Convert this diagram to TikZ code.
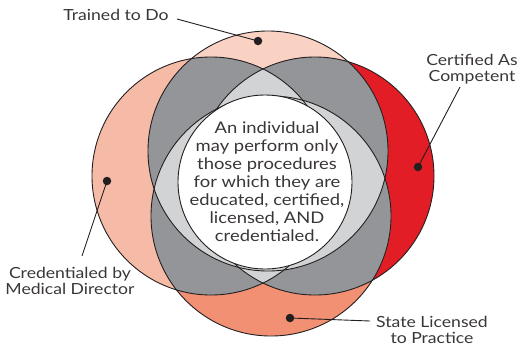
\documentclass[tikz,border=0pt]{standalone}
\usepackage{fontspec}
\setmainfont{Lato}[FakeStretch=1.15]
\definecolor{cTop}{HTML}{FAD2C4}
\definecolor{cLeft}{HTML}{F5BBA6}
\definecolor{cRight}{HTML}{E31D25}
\definecolor{cBot}{HTML}{F19072}
\definecolor{cTwo}{HTML}{939598}
\definecolor{cThree}{HTML}{D1D3D4}
\definecolor{ink}{HTML}{231F20}
\definecolor{txt}{HTML}{3A3637}
\tikzset{
  outline/.style={draw=ink, line width=0.9pt},
  dotnode/.style={circle, fill=ink, inner sep=0pt, minimum size=8.5pt},
  leader/.style={draw=ink, line width=0.9pt},
  lbl/.style={align=center, text=txt, font=\fontsize{15.3}{15.5}\selectfont, inner sep=0pt},
}
\begin{document}
\begin{tikzpicture}[x=1pt,y=-1pt]
\useasboundingbox (0,0) rectangle (519,346);
\def\CT{(268,151) circle[radius=120pt]}
\def\CB{(271,216) circle[radius=120pt]}
\def\CL{(211,176) circle[radius=119pt]}
\def\CR{(315,176) circle[radius=119pt]}
% single circles
\fill[cTop] \CT;
\fill[cLeft] \CL;
\fill[cRight] \CR;
\fill[cBot] \CB;
% pairwise overlaps
\begin{scope}\clip \CT; \fill[cTwo] \CL; \fill[cTwo] \CR; \fill[cTwo] \CB; \end{scope}
\begin{scope}\clip \CL; \fill[cTwo] \CR; \fill[cTwo] \CB; \end{scope}
\begin{scope}\clip \CR; \fill[cTwo] \CB; \end{scope}
% triple overlaps
\begin{scope}\clip \CT; \clip \CL; \fill[cThree] \CR; \fill[cThree] \CB; \end{scope}
\begin{scope}\clip \CT; \clip \CR; \fill[cThree] \CB; \end{scope}
\begin{scope}\clip \CL; \clip \CR; \fill[cThree] \CB; \end{scope}
% outlines
\draw[outline] \CT;
\draw[outline] \CL;
\draw[outline] \CR;
\draw[outline] \CB;
% central white circle
\draw[outline, fill=white] (265,182) circle[radius=87pt];
\node[align=center, text=txt, font=\fontsize{16}{18}\selectfont, inner sep=0pt] (center) at (267,182)
  {An individual\\may perform only\\those procedures\\for which they are\\educated, certified,\\licensed, AND\\credentialed.};
% labels
\node[lbl] (trained) at (116,15) {Trained to Do};
\node[lbl] (certified) at (472,69) {Certified As\\Competent};
\node[lbl] (credentialed) at (70,281) {Credentialed by\\Medical Director};
\node[lbl] (state) at (432,330) {State Licensed\\to Practice};
% dots
\node[dotnode] (dT) at (258,41) {};
\node[dotnode] (dR) at (418,167) {};
\node[dotnode] (dL) at (107,181) {};
\node[dotnode] (dB) at (290,318) {};
% leader ends
\coordinate (eT) at (177,19);
\coordinate (eR) at (460,87);
\coordinate (eL) at (82,256);
\coordinate (eB) at (370,321);
\draw[leader] (eT) -- (dT.center);
\draw[leader] (eR) -- (dR.center);
\draw[leader] (eL) -- (dL.center);
\draw[leader] (eB) -- (dB.center);
\end{tikzpicture}
\end{document}
